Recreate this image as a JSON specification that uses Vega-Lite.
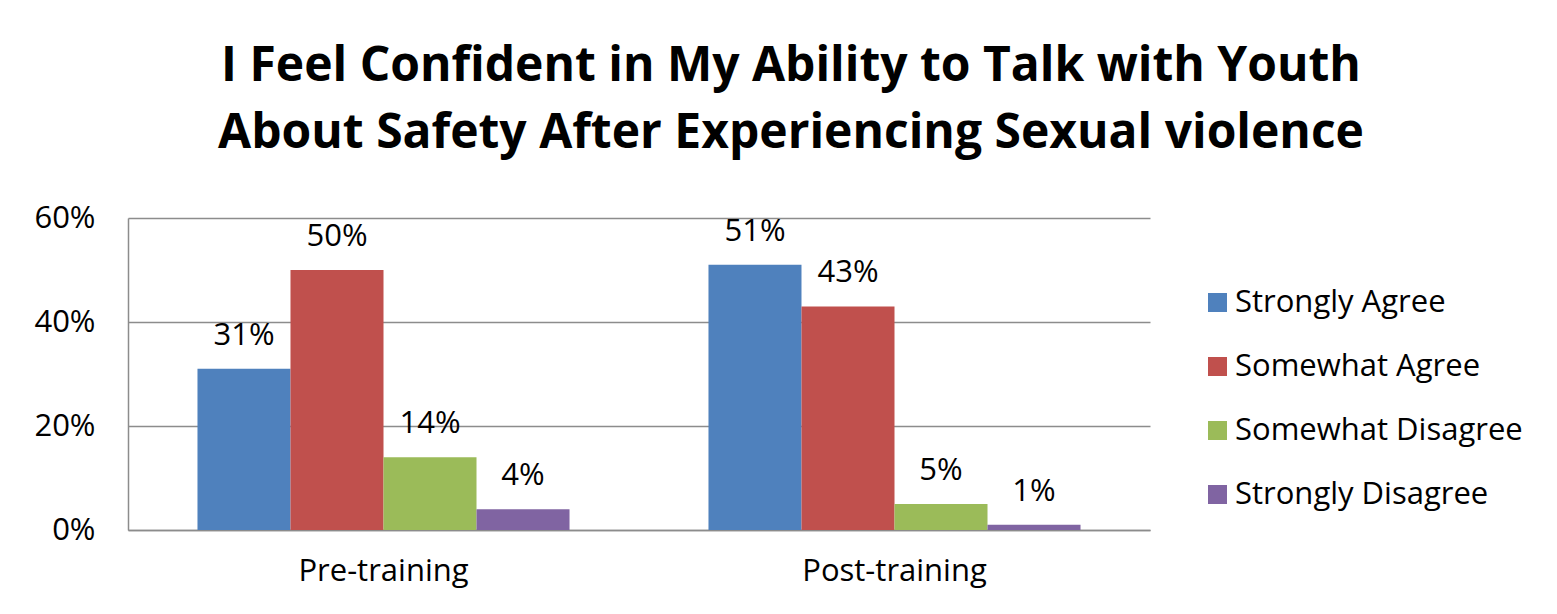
{
  "$schema": "https://vega.github.io/schema/vega-lite/v6.json",
  "autosize": {"type": "none"},
  "padding": {"left": 128, "top": 218, "right": 407, "bottom": 84},
  "width": 1022,
  "height": 312,
  "background": "white",
  "title": {
    "text": ["I Feel Confident in My Ability to Talk with Youth", "About Safety After Experiencing Sexual violence"],
    "font": "Open Sans",
    "fontSize": 48,
    "fontWeight": "bold",
    "color": "#000000",
    "anchor": "middle",
    "frame": "group",
    "dx": 152,
    "lineHeight": 67,
    "offset": 44
  },
  "data": {
    "values": [
      {"phase": "Pre-training", "response": "Strongly Agree", "pct": 0.31},
      {"phase": "Pre-training", "response": "Somewhat Agree", "pct": 0.50},
      {"phase": "Pre-training", "response": "Somewhat Disagree", "pct": 0.14},
      {"phase": "Pre-training", "response": "Strongly Disagree", "pct": 0.04},
      {"phase": "Post-training", "response": "Strongly Agree", "pct": 0.51},
      {"phase": "Post-training", "response": "Somewhat Agree", "pct": 0.43},
      {"phase": "Post-training", "response": "Somewhat Disagree", "pct": 0.05},
      {"phase": "Post-training", "response": "Strongly Disagree", "pct": 0.01}
    ]
  },
  "encoding": {
    "x": {
      "field": "phase",
      "type": "nominal",
      "sort": ["Pre-training", "Post-training"],
      "scale": {"paddingInner": 0, "paddingOuter": 0},
      "axis": {
        "title": null,
        "labelAngle": 0,
        "labelFont": "Open Sans",
        "labelFontSize": 31,
        "labelColor": "#000000",
        "labelPadding": 26,
        "labelLimit": 400,
        "ticks": false,
        "domainColor": "#8c8c8c",
        "domainWidth": 1.5
      }
    },
    "xOffset": {
      "field": "response",
      "type": "nominal",
      "sort": ["Strongly Agree", "Somewhat Agree", "Somewhat Disagree", "Strongly Disagree"],
      "scale": {"paddingInner": 0, "paddingOuter": 0.747}
    },
    "y": {
      "field": "pct",
      "type": "quantitative",
      "scale": {"domain": [0, 0.6], "nice": false},
      "axis": {
        "title": null,
        "values": [0, 0.2, 0.4, 0.6],
        "format": ".0%",
        "labelFont": "Open Sans",
        "labelFontSize": 31,
        "labelColor": "#000000",
        "labelPadding": 33,
        "ticks": false,
        "domainColor": "#8c8c8c",
        "domainWidth": 1.5,
        "grid": true,
        "gridColor": "#8c8c8c",
        "gridWidth": 1.5
      }
    }
  },
  "layer": [
    {
      "mark": {"type": "bar"},
      "encoding": {
        "color": {
          "field": "response",
          "type": "nominal",
          "sort": ["Strongly Agree", "Somewhat Agree", "Somewhat Disagree", "Strongly Disagree"],
          "scale": {
            "domain": ["Strongly Agree", "Somewhat Agree", "Somewhat Disagree", "Strongly Disagree"],
            "range": ["#4F81BD", "#C0504D", "#9BBB59", "#8064A2"]
          },
          "legend": {
            "title": null,
            "orient": "none",
            "legendX": 1074,
            "legendY": 69,
            "symbolType": "square",
            "symbolSize": 361,
            "symbolStrokeWidth": 0,
            "labelFont": "Open Sans",
            "labelFontSize": 31,
            "labelColor": "#000000",
            "labelOffset": 2,
            "rowPadding": 32,
            "labelLimit": 400
          }
        }
      }
    },
    {
      "mark": {"type": "text", "baseline": "alphabetic", "dy": -24, "font": "Open Sans", "fontSize": 31, "color": "#000000"},
      "encoding": {
        "text": {"field": "pct", "type": "quantitative", "format": ".0%"}
      }
    }
  ],
  "config": {
    "view": {"stroke": null}
  }
}
